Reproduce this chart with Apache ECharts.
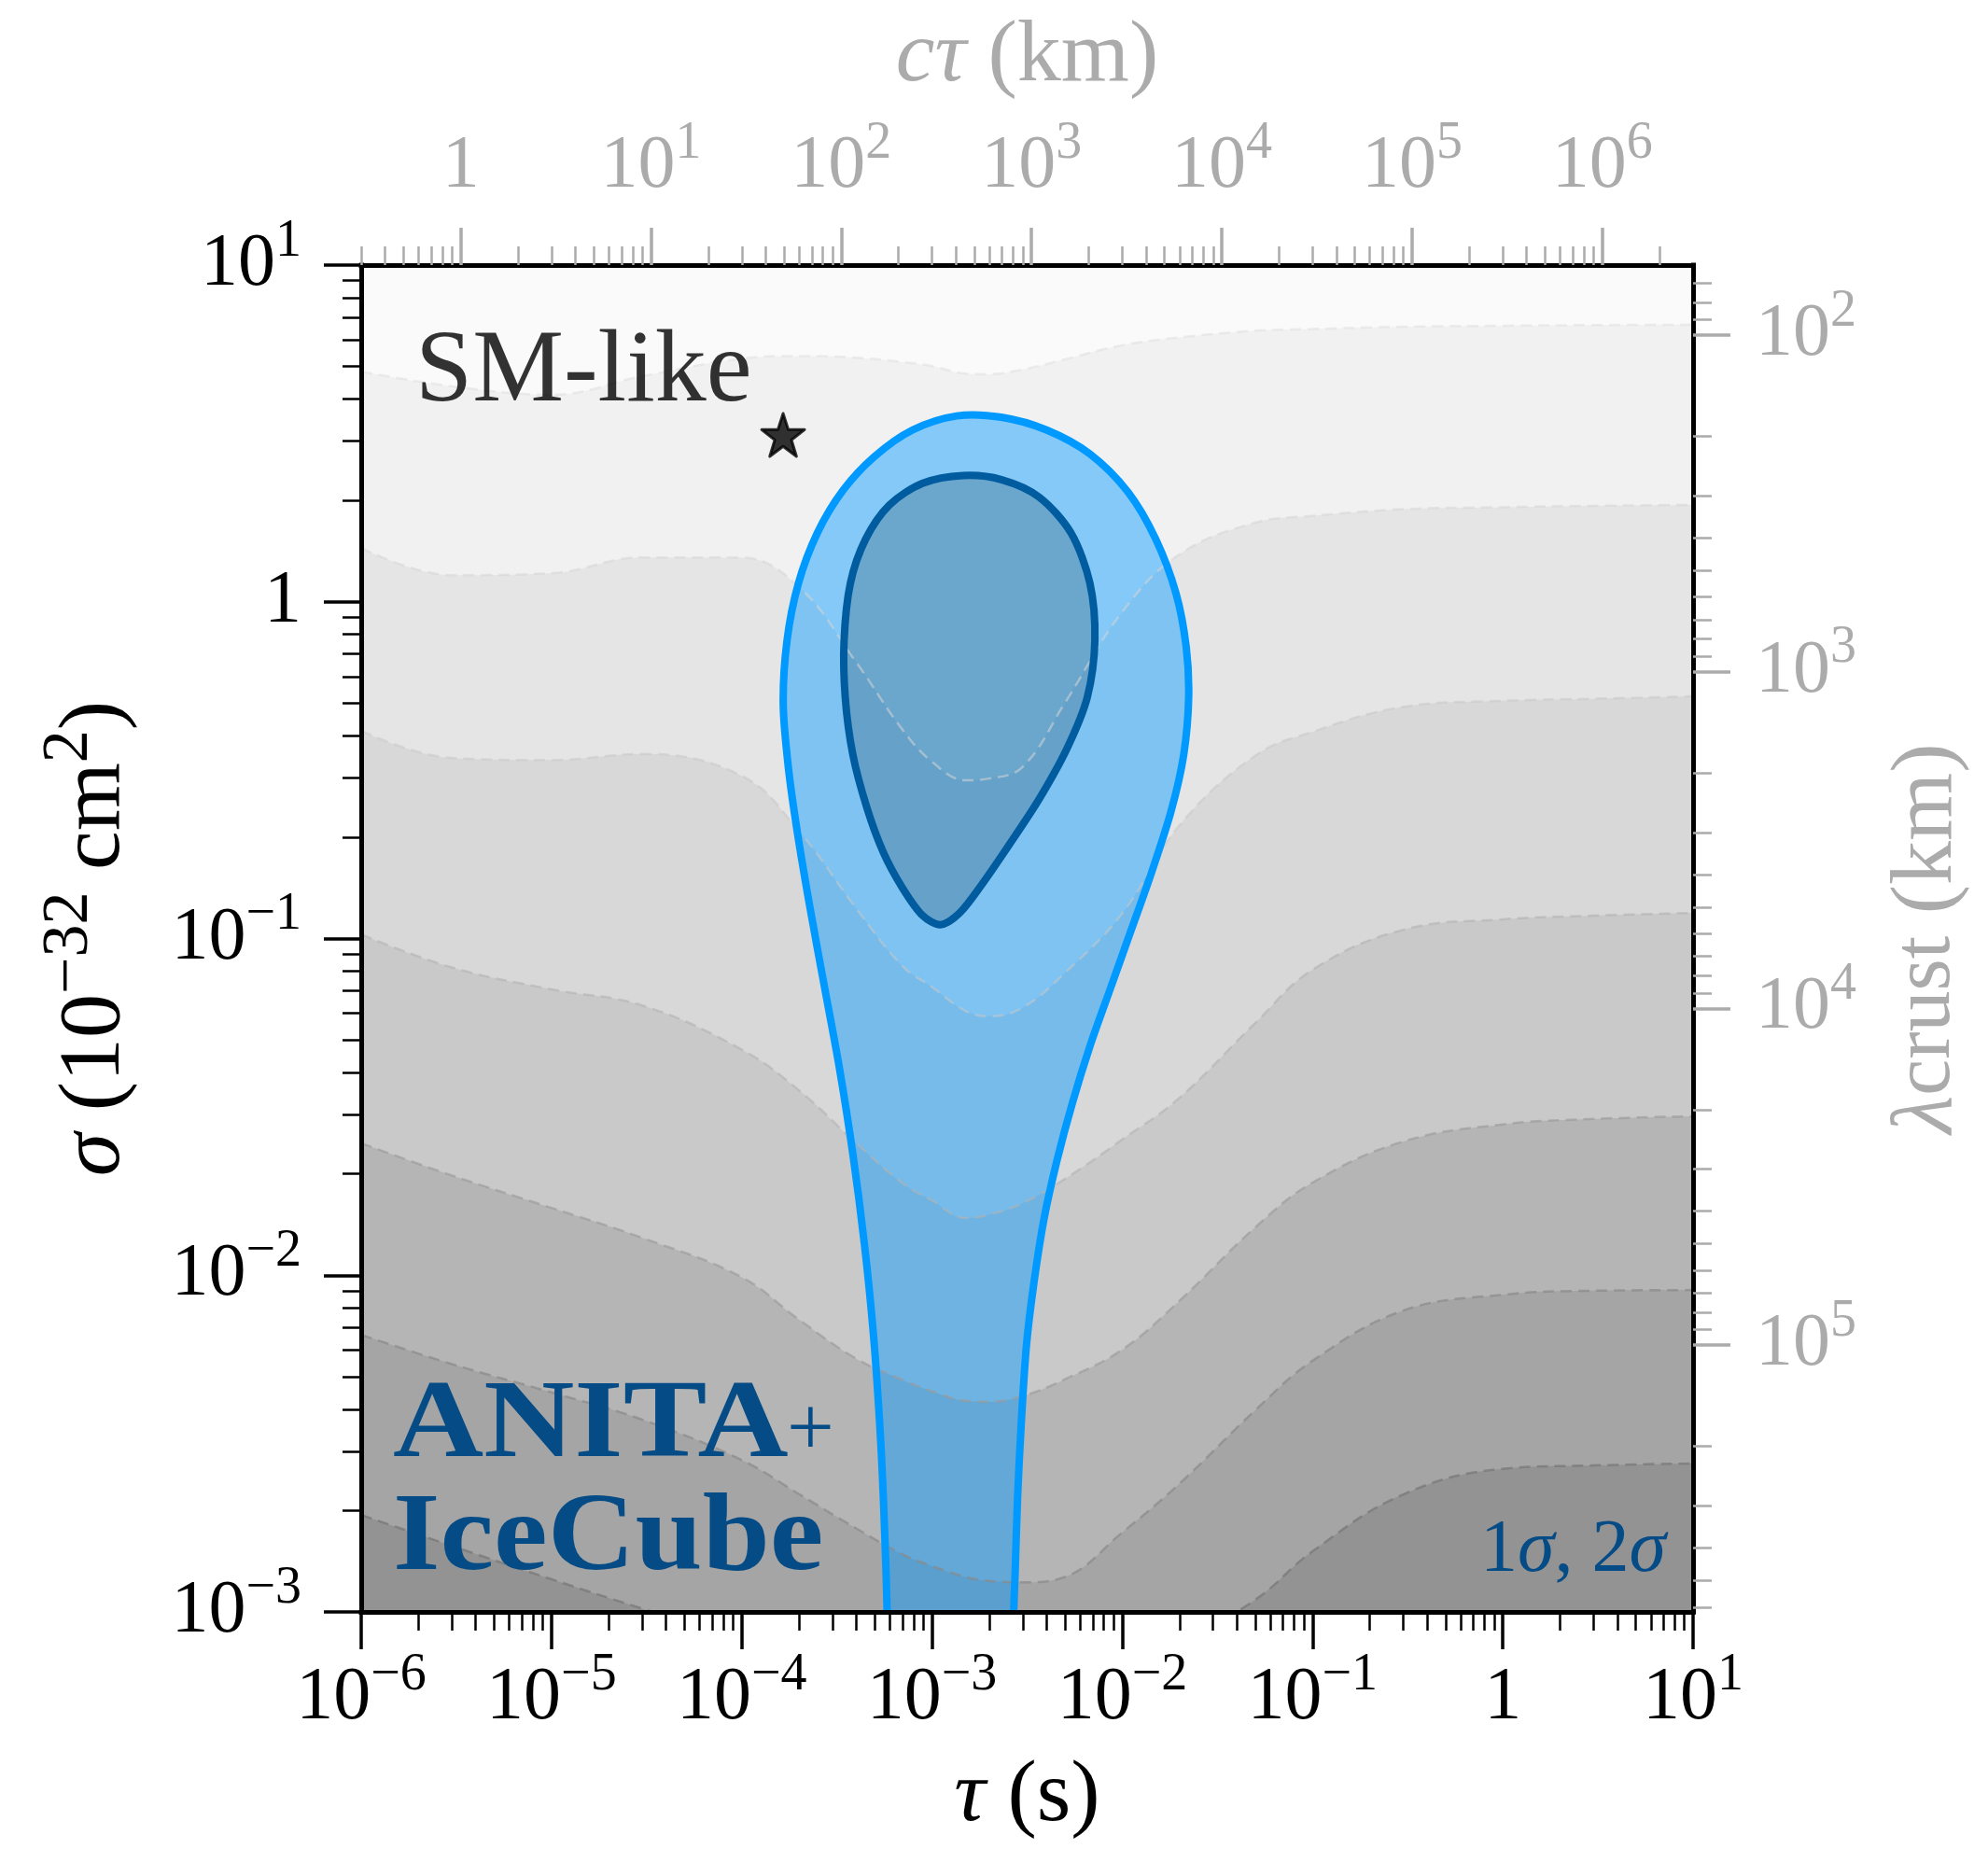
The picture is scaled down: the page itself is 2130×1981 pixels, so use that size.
<!DOCTYPE html>
<html>
<head>
<meta charset="utf-8">
<title>ANITA + IceCube: lifetime vs cross section</title>
<script src="https://cdn.jsdelivr.net/npm/echarts@6/dist/echarts.min.js"></script>
<style>
  html, body { margin: 0; padding: 0; background: #ffffff; }
  #chart { width: 2130px; height: 1981px; }
</style>
</head>
<body>
<div id="chart"></div>
<script>
const SERIF = '"Liberation Serif", "DejaVu Serif", "Times New Roman", serif';
const INK = '#000000';
const GREY = '#ababab';
const NAVY = '#054b86';

// Conversions used by the secondary axes
const C_KM_PER_S = 2.998e5;       // c*tau (km) = C * tau (s)
const LAMBDA_TIMES_SIGMA = 620;   // lambda_crust (km) * sigma (1e-32 cm^2)

// Axis ranges, in decades (log10)
const TAU_RANGE = [-6, 1];
const SIGMA_RANGE = [-3, 1];
const CTAU_RANGE = TAU_RANGE.map(v => v + Math.log10(C_KM_PER_S));
const LAMBDA_RANGE = [Math.log10(LAMBDA_TIMES_SIGMA) - SIGMA_RANGE[1],
                      Math.log10(LAMBDA_TIMES_SIGMA) - SIGMA_RANGE[0]];

// Labelled decades on each axis
const tauTicks = [-6, -5, -4, -3, -2, -1, 0, 1];
const sigmaTicks = [-3, -2, -1, 0, 1];
const ctauTicks = [0, 1, 2, 3, 4, 5, 6];
const lambdaTicks = [2, 3, 4, 5];

// log10(tau / s) at which the background level boundaries are sampled
const tauGridLog = [-6, -5.523, -5, -4.523, -4, -3.699, -3.398, -3.155, -3, -2.824, -2.699,
                    -2.523, -2.301, -2, -1.699, -1.301, -1, -0.523, 0, 0.477, 1];

// log10(sigma) along each level boundary, top level first
const sigmaLevel1 = [0.684, 0.64, 0.615, 0.67, 0.722, 0.73, 0.725, 0.712, 0.70, 0.678, 0.676,
                     0.69, 0.72, 0.762, 0.785, 0.805, 0.81, 0.817, 0.82, 0.822, 0.823];
const sigmaLevel2 = [0.16, 0.079, 0.085, 0.132, 0.131, 0.044, -0.18, -0.38, -0.475, -0.53, -0.525,
                     -0.49, -0.30, -0.03, 0.141, 0.235, 0.255, 0.275, 0.281, 0.285, 0.288];
const sigmaLevel3 = [-0.383, -0.464, -0.47, -0.452, -0.517, -0.681, -0.911, -1.082, -1.144, -1.215, -1.231,
                     -1.205, -1.102, -0.925, -0.664, -0.457, -0.386, -0.312, -0.294, -0.288, -0.281];
const sigmaLevel4 = [-0.988, -1.086, -1.151, -1.199, -1.33, -1.451, -1.608, -1.727, -1.778, -1.83, -1.82,
                     -1.786, -1.714, -1.597, -1.473, -1.251, -1.093, -0.974, -0.943, -0.932, -0.924];
const sigmaLevel5 = [-1.608, -1.704, -1.80, -1.889, -2.006, -2.132, -2.248, -2.311, -2.345, -2.373, -2.376,
                     -2.359, -2.309, -2.221, -2.076, -1.858, -1.725, -1.603, -1.552, -1.536, -1.528];
const sigmaLevel6 = [-2.177, -2.264, -2.348, -2.429, -2.549, -2.65, -2.752, -2.829, -2.864, -2.896, -2.908,
                     -2.912, -2.896, -2.764, -2.619, -2.401, -2.254, -2.105, -2.058, -2.046, -2.044];
const sigmaLevel7 = [-2.712, -2.804, -2.903, -2.99, -3.08, -3.16, -3.24, -3.28, -3.30, -3.32, -3.32,
                     -3.30, -3.26, -3.18, -3.09, -2.964, -2.82, -2.651, -2.575, -2.565, -2.559];

// Preferred regions, [log10 tau, log10 sigma]; the 2-sigma region is open below the plot
const region2Sigma = [
  [-3.236, -3.185], [-3.236, -3.0], [-3.256, -2.657], [-3.276, -2.431], [-3.309, -2.168],
  [-3.356, -1.904], [-3.416, -1.640], [-3.489, -1.377], [-3.569, -1.132], [-3.642, -0.906],
  [-3.709, -0.680], [-3.755, -0.492], [-3.782, -0.303], [-3.762, -0.115], [-3.702, 0.055],
  [-3.602, 0.205], [-3.469, 0.330], [-3.303, 0.431], [-3.103, 0.510], [-2.870, 0.552],
  [-2.636, 0.548], [-2.397, 0.510], [-2.170, 0.439], [-1.970, 0.326], [-1.824, 0.186],
  [-1.717, 0.024], [-1.664, -0.134], [-1.651, -0.284], [-1.677, -0.454], [-1.744, -0.623],
  [-1.851, -0.812], [-1.957, -0.981], [-2.064, -1.151], [-2.170, -1.320], [-2.263, -1.490],
  [-2.343, -1.659], [-2.410, -1.829], [-2.463, -2.017], [-2.503, -2.205], [-2.530, -2.431],
  [-2.550, -2.657], [-2.563, -2.883], [-2.570, -3.0], [-2.570, -3.185]
];
const region1Sigma = [
  [-2.836, 0.375], [-2.636, 0.363], [-2.437, 0.311], [-2.270, 0.205], [-2.170, 0.055],
  [-2.144, -0.115], [-2.184, -0.284], [-2.290, -0.435], [-2.437, -0.586], [-2.590, -0.718],
  [-2.736, -0.838], [-2.856, -0.925], [-2.956, -0.959], [-3.049, -0.932], [-3.156, -0.849],
  [-3.256, -0.744], [-3.342, -0.612], [-3.416, -0.454], [-3.456, -0.284], [-3.462, -0.115],
  [-3.429, 0.055], [-3.349, 0.186], [-3.223, 0.288], [-3.049, 0.352]
];

// Standard-Model-like benchmark: [tau (s), sigma (1e-32 cm^2)]
const smLikePoint = [1.65e-4, 3.13];

// Styling of the background levels (top to bottom)
const levelFills = ['#f1f1f1', '#e5e5e5', '#d8d8d8', '#c9c9c9', '#b5b5b5', '#a5a5a5', '#939393'];
const levelLines = ['rgba(222,222,222,0.5)', 'rgba(214,214,214,0.55)', 'rgba(200,200,200,0.55)',
                    'rgba(178,178,178,0.6)', 'rgba(155,155,155,0.65)', 'rgba(138,138,138,0.7)',
                    'rgba(118,118,118,0.7)'];
const levels = [sigmaLevel1, sigmaLevel2, sigmaLevel3, sigmaLevel4, sigmaLevel5, sigmaLevel6, sigmaLevel7];

// Minor ticks at 2..9 x 10^n, expressed in decades
function minorDecades(lo, hi) {
  const out = [];
  for (let n = Math.floor(lo); n <= Math.ceil(hi); n++) {
    for (let k = 2; k <= 9; k++) {
      const v = n + Math.log10(k);
      if (v >= lo - 1e-9 && v <= hi + 1e-9) out.push(v);
    }
  }
  return out;
}

function decadeLabel(v) {
  const e = Math.round(v);
  if (e === 0) return '{m|1}';
  return '{m|10}{e|' + (e < 0 ? '\u2212' + (-e) : String(e)) + '}';
}

function tickRich(color) {
  return {
    m: { fontFamily: SERIF, fontSize: 80, lineHeight: 106, color: color },
    e: { fontFamily: SERIF, fontSize: 56, lineHeight: 56, padding: [0, 0, 50, 0], color: color }
  };
}

function nameRich(color) {
  return {
    i: { fontFamily: SERIF, fontStyle: 'italic', fontSize: 94, lineHeight: 124, color: color },
    r: { fontFamily: SERIF, fontSize: 94, lineHeight: 124, color: color },
    c: { fontFamily: SERIF, fontSize: 88, lineHeight: 124, color: color },
    s: { fontFamily: SERIF, fontSize: 70, lineHeight: 70, padding: [0, 0, 54, 0], color: color }
  };
}

function spine(show) {
  return { show: show, onZero: false, lineStyle: { color: INK, width: 5, cap: 'square' } };
}

function majorAxis(cfg) {
  return Object.assign({
    type: 'value', gridIndex: 0, z: 10,
    axisLine: spine(true),
    axisTick: { show: true, inside: false, customValues: cfg.ticks, length: 40,
                lineStyle: { color: cfg.color, width: 3.5 } },
    axisLabel: { show: true, customValues: cfg.ticks, formatter: decadeLabel,
                 margin: cfg.margin, rich: tickRich(cfg.color) },
    splitLine: { show: false },
    nameLocation: 'middle',
    nameTextStyle: { rich: nameRich(cfg.color) }
  }, cfg.extra);
}

function minorAxis(cfg) {
  return Object.assign({
    type: 'value', gridIndex: 0, z: 10,
    axisLine: spine(false),
    axisTick: { show: true, inside: false, customValues: minorDecades(cfg.min, cfg.max), length: 20,
                lineStyle: { color: cfg.color, width: 2.5 } },
    axisLabel: { show: false },
    splitLine: { show: false }
  }, cfg.extra);
}

function regionSeries(points, style, z) {
  return {
    type: 'custom', xAxisIndex: 0, yAxisIndex: 0, clip: true, silent: true, z: z,
    data: points,
    renderItem: function (params, api) {
      if (params.dataIndex !== 0) return null;
      return {
        type: 'polygon',
        shape: { points: points.map(p => api.coord(p)), smooth: 0.3 },
        style: style
      };
    }
  };
}

const series = [];

// Filled background levels, each painted from its boundary down to the bottom of the plot
levels.forEach((lv, i) => {
  series.push({
    type: 'line', xAxisIndex: 0, yAxisIndex: 0, silent: true, z: 1,
    data: tauGridLog.map((t, j) => [t, lv[j]]),
    smooth: 0.4, symbol: 'none', showSymbol: false,
    lineStyle: { opacity: 0 },
    areaStyle: { color: levelFills[i], opacity: 1, origin: 'start' }
  });
});

// 2-sigma and 1-sigma fills
series.push(regionSeries(region2Sigma, { fill: 'rgba(0,153,255,0.45)', stroke: null }, 2));
series.push(regionSeries(region1Sigma, { fill: 'rgba(20,40,60,0.22)', stroke: null }, 2));

// Dashed level boundaries
levels.forEach((lv, i) => {
  series.push({
    type: 'line', xAxisIndex: 0, yAxisIndex: 0, silent: true, z: 3,
    data: tauGridLog.map((t, j) => [t, lv[j]]),
    smooth: 0.4, symbol: 'none', showSymbol: false,
    lineStyle: { color: levelLines[i], width: 2.5, type: [12, 7] }
  });
});

// Region outlines
series.push(regionSeries(region2Sigma, { fill: null, stroke: '#0099ff', lineWidth: 8, lineJoin: 'round' }, 4));
series.push(regionSeries(region1Sigma, { fill: null, stroke: '#005c9f', lineWidth: 8, lineJoin: 'round' }, 4));

// SM-like benchmark
series.push({
  type: 'scatter', xAxisIndex: 0, yAxisIndex: 0, silent: true, z: 5,
  data: [[Math.log10(smLikePoint[0]), Math.log10(smLikePoint[1])]],
  symbol: 'path://M50,2 L61.5,36 L97.5,36 L68.5,57.5 L79.5,92 L50,71 L20.5,92 L31.5,57.5 L2.5,36 L38.5,36 Z',
  symbolSize: 46,
  itemStyle: { color: INK, borderColor: INK, borderWidth: 3, borderJoin: 'round' },
  label: {
    show: true, formatter: 'SM-like', position: 'left', distance: 9, offset: [0, -66],
    fontFamily: SERIF, fontSize: 110, color: INK
  }
});

const chart = echarts.init(document.getElementById('chart'), null, { renderer: 'canvas' });
chart.setOption({
  animation: false,
  backgroundColor: '#ffffff',
  grid: { left: 387, top: 284, width: 1427, height: 1443, show: true, backgroundColor: '#fafafa', borderWidth: 0 },
  xAxis: [
    majorAxis({ ticks: tauTicks, color: INK, margin: 40, extra: {
      position: 'bottom', min: TAU_RANGE[0], max: TAU_RANGE[1],
      name: '{i|\u03c4}{r| (s)}', nameGap: 126 } }),
    minorAxis({ min: TAU_RANGE[0], max: TAU_RANGE[1], color: INK, extra: {
      position: 'bottom', min: TAU_RANGE[0], max: TAU_RANGE[1] } }),
    majorAxis({ ticks: ctauTicks, color: GREY, margin: 52, extra: {
      position: 'top', min: CTAU_RANGE[0], max: CTAU_RANGE[1],
      name: '{i|c\u03c4}{r| (km)}', nameGap: 161 } }),
    minorAxis({ min: CTAU_RANGE[0], max: CTAU_RANGE[1], color: GREY, extra: {
      position: 'top', min: CTAU_RANGE[0], max: CTAU_RANGE[1] } })
  ],
  yAxis: [
    majorAxis({ ticks: sigmaTicks, color: INK, margin: 64, extra: {
      position: 'left', min: SIGMA_RANGE[0], max: SIGMA_RANGE[1],
      name: '{i|\u03c3}{r| (10}{s|\u221232}{r| cm}{s|2}{r|)}', nameGap: 223, nameRotate: 90 } }),
    minorAxis({ min: SIGMA_RANGE[0], max: SIGMA_RANGE[1], color: INK, extra: {
      position: 'left', min: SIGMA_RANGE[0], max: SIGMA_RANGE[1] } }),
    majorAxis({ ticks: lambdaTicks, color: GREY, margin: 67, extra: {
      position: 'right', min: LAMBDA_RANGE[0], max: LAMBDA_RANGE[1], inverse: true,
      name: '{i|\u03bb}{c|crust}{r| (km)}', nameGap: 189, nameRotate: 90 } }),
    minorAxis({ min: LAMBDA_RANGE[0], max: LAMBDA_RANGE[1], color: GREY, extra: {
      position: 'right', min: LAMBDA_RANGE[0], max: LAMBDA_RANGE[1], inverse: true } })
  ],
  series: series,
  graphic: [
    { type: 'text', x: 421, y: 1530, scaleX: 1.14, z: 20, silent: true,
      style: { text: 'ANITA', fill: NAVY, fontFamily: SERIF, fontWeight: 'bold', fontSize: 118,
               align: 'left', verticalAlign: 'middle' } },
    { type: 'text', x: 843, y: 1535, z: 20, silent: true,
      style: { text: '+', fill: NAVY, fontFamily: SERIF, fontSize: 90, align: 'left', verticalAlign: 'middle' } },
    { type: 'text', x: 421, y: 1651, scaleX: 1.1, z: 20, silent: true,
      style: { text: 'IceCube', fill: NAVY, fontFamily: SERIF, fontWeight: 'bold', fontSize: 118,
               align: 'left', verticalAlign: 'middle' } },
    { type: 'text', x: 1785, y: 1662, z: 20, silent: true,
      style: { text: '{r|1}{i|\u03c3}{r|, 2}{i|\u03c3}', align: 'right', verticalAlign: 'middle',
               rich: {
                 r: { fontFamily: SERIF, fontSize: 80, fill: NAVY },
                 i: { fontFamily: SERIF, fontSize: 80, fontStyle: 'italic', fill: NAVY }
               } } }
  ]
});
</script>
</body>
</html>
